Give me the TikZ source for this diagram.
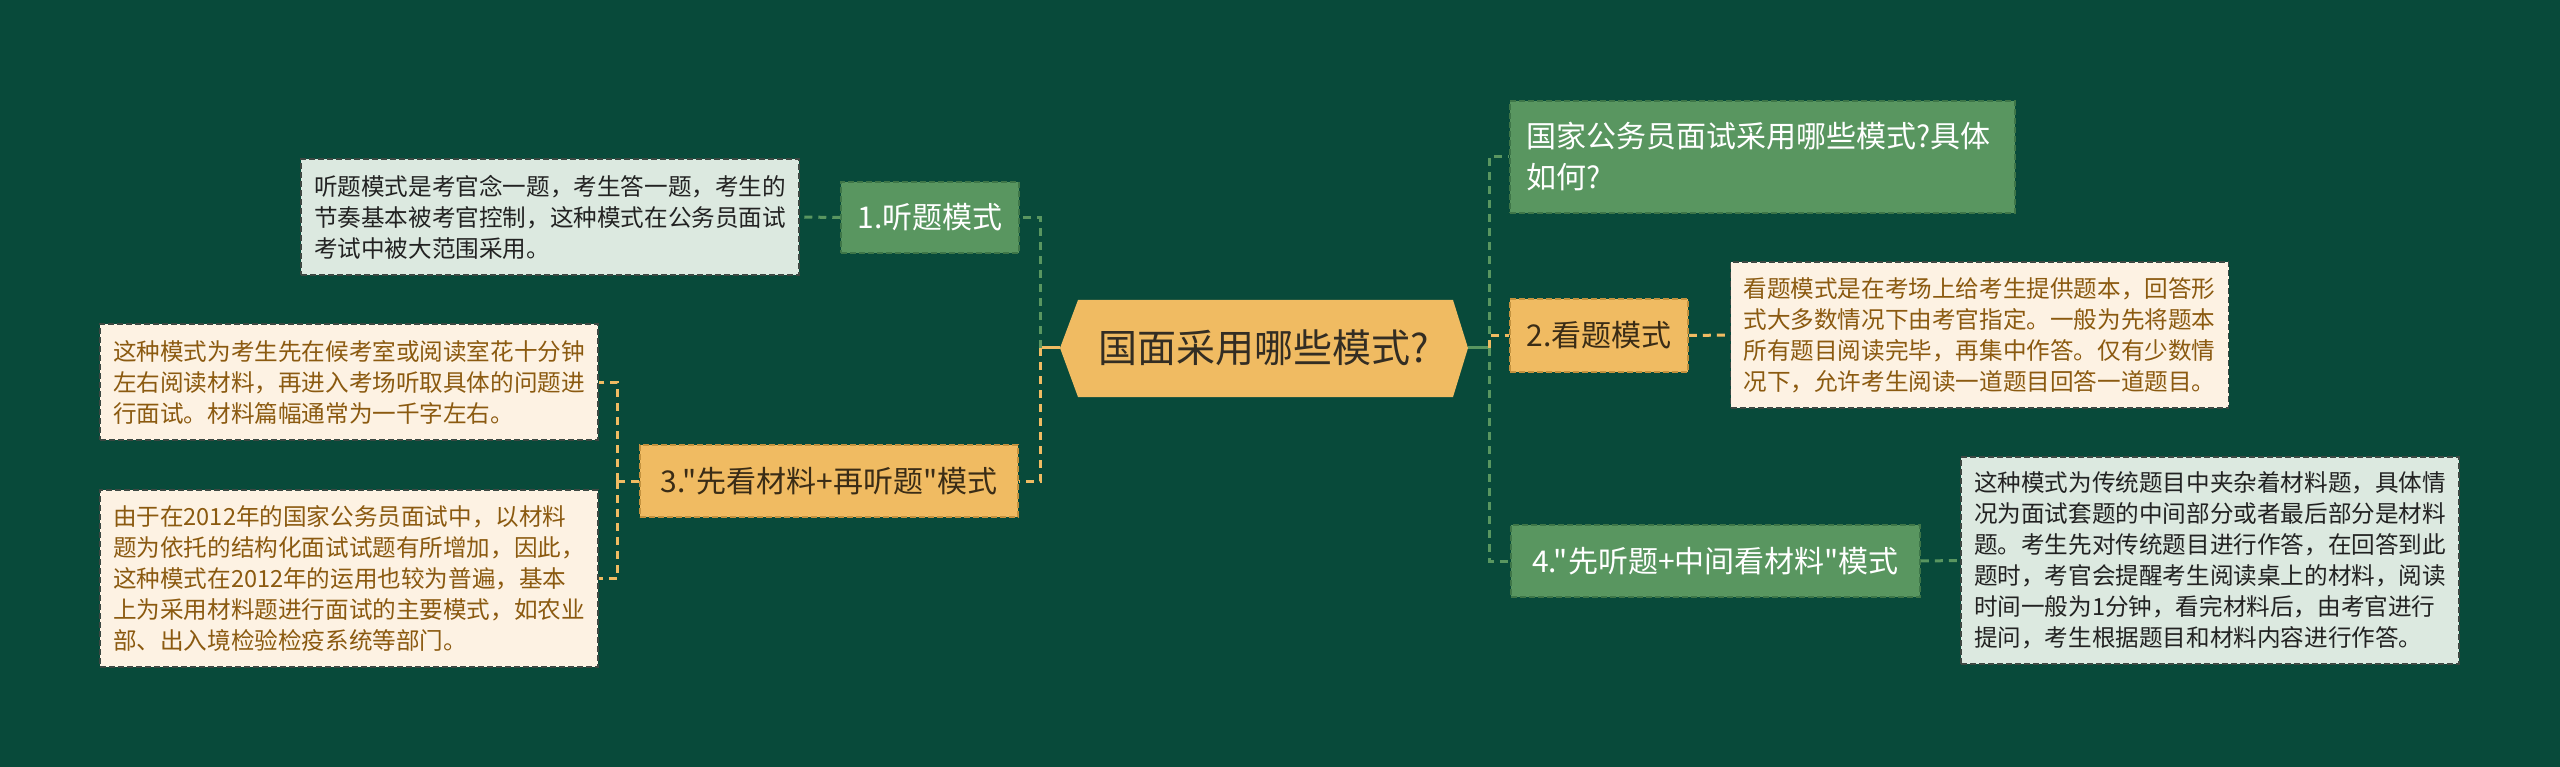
\documentclass[tikz,border=0pt]{standalone}
\usepackage{fontspec}
\setmainfont{Noto Sans CJK SC}[Ligatures=TeXOff]
\definecolor{bgc}{RGB}{8,74,58}
\definecolor{gnode}{RGB}{89,150,96}
\definecolor{gborder}{RGB}{62,118,72}
\definecolor{ynode}{RGB}{240,187,98}
\definecolor{yborder}{RGB}{196,146,62}
\definecolor{ytext}{RGB}{58,44,22}
\definecolor{gdfill}{RGB}{220,233,224}
\definecolor{ydfill}{RGB}{253,242,227}
\definecolor{gdtext}{RGB}{34,34,34}
\definecolor{ydtext}{RGB}{139,90,16}
\definecolor{dborder}{RGB}{60,72,66}
\definecolor{ctext}{RGB}{51,45,35}
\begin{document}
\begin{tikzpicture}[x=1pt,y=-1pt,
  boxbase/.style={dash pattern=on 6pt off 3pt, line width=1.5pt, inner sep=0pt},
  gbox/.style={boxbase, draw=gborder, fill=gnode, text=white, font=\fontsize{30}{41}\selectfont},
  ybox/.style={boxbase, draw=yborder, fill=ynode, text=ytext, font=\fontsize{30}{41}\selectfont},
  descbase/.style={boxbase, draw=dborder, font=\fontsize{23.6}{31}\selectfont, text width=472pt, align=left, inner xsep=13pt, inner ysep=0pt},
  gdesc/.style={descbase, fill=gdfill, text=gdtext},
  ydesc/.style={descbase, fill=ydfill, text=ydtext},
  gdash/.style={draw=gnode, line width=3pt, dash pattern=on 8pt off 6pt},
  ydash/.style={draw=ynode, line width=3pt, dash pattern=on 8pt off 6pt},
  gsolid/.style={draw=gnode, line width=3pt},
  ysolid/.style={draw=ynode, line width=3pt}]
\fill[bgc] (0,0) rectangle (2560,767);
\useasboundingbox (0,0) rectangle (2560,767);

% centre
\fill[ynode] (1060,348) -- (1078,300) -- (1453,300) -- (1468,348) -- (1453,397) -- (1078,397) -- cycle;
\node[minimum width=408pt, minimum height=97pt, inner sep=0pt, text=ctext, font=\fontsize{39}{46}\selectfont] (c) at (1264,348) {国面采用哪些模式?};

% left branch
\node[gbox, minimum width=178pt, minimum height=71pt] (n1) at (930,217.5) {1.听题模式};
\node[gdesc, minimum height=116pt] (d1) at (550,217) {听题模式是考官念一题，考生答一题，考生的\\节奏基本被考官控制，这种模式在公务员面试\\考试中被大范围采用。};

\node[ybox, minimum width=378pt, minimum height=72pt] (n3) at (829,481) {3."先看材料+再听题"模式};
\node[ydesc, minimum height=116pt] (d3a) at (349,382) {这种模式为考生先在候考室或阅读室花十分钟\\左右阅读材料，再进入考场听取具体的问题进\\行面试。材料篇幅通常为一千字左右。};
\node[ydesc, minimum height=177pt] (d3b) at (349,578.5) {由于在2012年的国家公务员面试中，以材料\\题为依托的结构化面试试题有所增加，因此，\\这种模式在2012年的运用也较为普遍，基本\\上为采用材料题进行面试的主要模式，如农业\\部、出入境检验检疫系统等部门。};

% right branch
\node[gbox, text width=473pt, align=left, inner xsep=16pt, minimum height=112pt] (t0) at (1762.5,157) {国家公务员面试采用哪些模式?具体\\如何?};
\node[ybox, minimum width=178pt, minimum height=73pt] (n2) at (1599,335.5) {2.看题模式};
\node[ydesc, minimum height=146pt] (d2) at (1979.5,335) {看题模式是在考场上给考生提供题本，回答形\\式大多数情况下由考官指定。一般为先将题本\\所有题目阅读完毕，再集中作答。仅有少数情\\况下，允许考生阅读一道题目回答一道题目。};
\node[gbox, minimum width=409pt, minimum height=72pt] (n4) at (1715.5,561) {4."先听题+中间看材料"模式};
\node[gdesc, minimum height=207pt] (d4) at (2210,560.5) {这种模式为传统题目中夹杂着材料题，具体情\\况为面试套题的中间部分或者最后部分是材料\\题。考生先对传统题目进行作答，在回答到此\\题时，考官会提醒考生阅读桌上的材料，阅读\\时间一般为1分钟，看完材料后，由考官进行\\提问，考生根据题目和材料内容进行作答。};

% connectors
\draw[ysolid] (c.west) -- ++(-19,0) coordinate (lsp);
\draw[gdash] (lsp) |- (n1.east);
\draw[ydash] (lsp) |- (n3.east);
\draw[gsolid] (c.east) -- ++(21,0) coordinate (rsp);
\draw[gdash] (rsp) |- (t0.west);
\draw[ydash] (rsp) |- (n2.west);
\draw[gdash] (rsp) |- (n4.west);

\draw[gdash] (n1.west) -- (d1.east);
\draw[ydash] (n3.west) -- ++(-22,0) coordinate (s3);
\draw[ydash] (s3) |- (d3a.east);
\draw[ydash] (s3) |- (d3b.east);
\draw[ydash] (n2.east) -- (d2.west);
\draw[gdash] (n4.east) -- (d4.west);
\end{tikzpicture}
\end{document}
